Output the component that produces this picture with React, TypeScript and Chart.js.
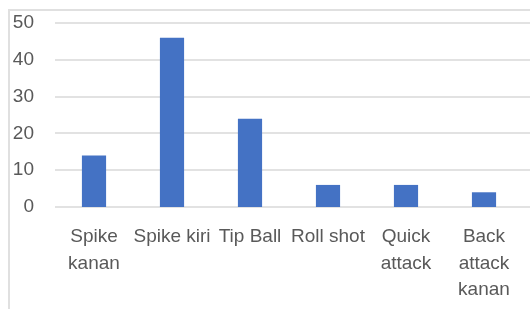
import React, { useEffect, useRef } from "react";
import { Chart, registerables } from "chart.js";

Chart.register(...registerables);

const categories: string[][] = [
  ["Spike", "kanan"],
  ["Spike kiri"],
  ["Tip Ball"],
  ["Roll shot"],
  ["Quick", "attack"],
  ["Back", "attack", "kanan"],
];
const values: number[] = [14, 46, 24, 6, 6, 4];
const yMin = 0;
const yMax = 50;
const yStep = 10;

const GRID = "#d9d9d9";
const TEXT = "#595959";
const BAR = "#4472C4";
const FONT = "'Liberation Sans', Arial, sans-serif";

const extendedGrid = {
  id: "extendedGrid",
  beforeDatasetsDraw(chart: any) {
    const y = chart.scales.y;
    const { ctx, chartArea } = chart;
    ctx.save();
    ctx.strokeStyle = GRID;
    ctx.lineWidth = 1.5;
    y.ticks.forEach((t: any) => {
      const py = Math.round(y.getPixelForValue(t.value));
      ctx.beginPath();
      ctx.moveTo(chartArea.left, py);
      ctx.lineTo(chart.width, py);
      ctx.stroke();
    });
    ctx.restore();
  },
};

export default function App() {
  const ref = useRef<HTMLCanvasElement>(null);
  useEffect(() => {
    if (!ref.current) return;
    const chart = new Chart(ref.current, {
      type: "bar",
      data: {
        labels: categories,
        datasets: [
          {
            data: values,
            backgroundColor: BAR,
            borderWidth: 0,
            barPercentage: 0.31,
            categoryPercentage: 1,
          },
        ],
      },
      options: {
        animation: false,
        responsive: false,
        devicePixelRatio: 1,
        layout: { padding: { left: 13, right: 7, top: 23, bottom: 5.5 } },
        plugins: { legend: { display: false }, tooltip: { enabled: false } },
        scales: {
          x: {
            grid: { display: false, drawTicks: false },
            border: { display: false },
            ticks: {
              color: TEXT,
              font: { family: FONT, size: 19, lineHeight: 1.395 },
              padding: 17,
              maxRotation: 0,
              autoSkip: false,
            },
            afterFit: (s: any) => {
              s.height = 96.5;
              s.paddingLeft = 0;
              s.paddingRight = 0;
            },
          },
          y: {
            min: yMin,
            max: yMax,
            grid: { display: false, drawTicks: false },
            border: { display: false },
            ticks: {
              stepSize: yStep,
              color: TEXT,
              font: { family: FONT, size: 19 },
              padding: 21,
            },
            afterFit: (s: any) => {
              s.width = 42;
              s.paddingTop = 0;
              s.paddingBottom = 0;
            },
          },
        },
      },
      plugins: [extendedGrid],
    });
    return () => chart.destroy();
  }, []);
  return (
    <div style={{ position: "fixed", left: 0, top: 0, width: 530, height: 309, background: "#fff", overflow: "hidden" }}>
      <div
        style={{
          position: "absolute",
          left: 8,
          top: 9,
          right: -5,
          bottom: -5,
          borderTop: "2px solid #e0e0e0",
          borderLeft: "2px solid #e0e0e0",
        }}
      />
      <canvas ref={ref} width={530} height={309} style={{ position: "absolute", left: 0, top: 0 }} />
    </div>
  );
}
